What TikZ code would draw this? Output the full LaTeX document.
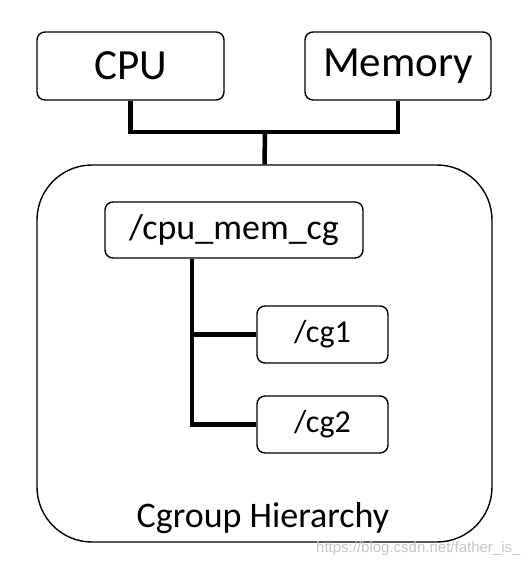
\documentclass[tikz,border=0pt]{standalone}
\usepackage{fontspec}
\setmainfont{Carlito}
\newfontfamily\wmfont{Liberation Sans}
\begin{document}
\begin{tikzpicture}[x=1pt,y=-1pt,
  box/.style={draw, line width=1.4pt, rounded corners=8pt, inner sep=0pt},
  bigbox/.style={draw, line width=1.4pt, rounded corners=55pt, inner sep=0pt},
  conn/.style={line width=4.5pt},
  bigtxt/.style={font=\fontsize{43}{50}\selectfont},
  midtxt/.style={font=\fontsize{36}{42}\selectfont},
  smtxt/.style={font=\fontsize{32}{38}\selectfont}]
\useasboundingbox (0,0) rectangle (530,566);
\node[bigbox, minimum width=455pt, minimum height=377pt] (big) at (264.5,353.5) {};
\node[box, bigtxt, minimum width=187pt, minimum height=68pt] (cpu) at (130.5,66) {CPU};
\node[box, bigtxt, minimum width=186pt, minimum height=68pt] (mem) at (398,66) {Memory};
\node[box, midtxt, minimum width=258pt, minimum height=56pt] (cmc) at (234,230) {/cpu\_mem\_cg};
\node[box, smtxt, minimum width=131pt, minimum height=57pt] (cg1) at (322.5,334.5) {/cg1};
\node[box, smtxt, minimum width=131pt, minimum height=57pt] (cg2) at (322.5,424.5) {/cg2};
\node[midtxt] (lbl) at (263,518) {Cgroup Hierarchy};
\node[font=\wmfont\fontsize{15}{18}\selectfont, text=gray!45, anchor=east] (wm) at (524,549) {https://blog.csdn.net/father\_is\_};
\coordinate (j) at (265,132);
\draw[conn] (cpu.south) |- (j) -| (mem.south);
\draw[conn] (j) -- (big.north);
\coordinate (t) at ([xshift=-42pt]cmc.south);
\coordinate (b1) at (t |- cg1.west);
\draw[conn] (t) |- (cg2.west);
\draw[conn] (b1) -- (cg1.west);
\end{tikzpicture}
\end{document}
